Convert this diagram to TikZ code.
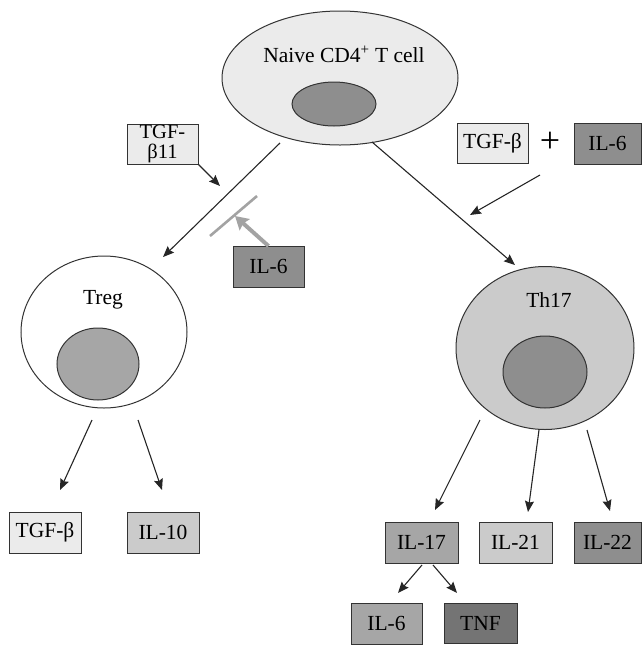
\documentclass[tikz,border=0pt]{standalone}
\usepackage{fontspec}
\setmainfont{Liberation Serif}
\usetikzlibrary{shapes.geometric,arrows.meta}
\definecolor{outl}{HTML}{333333}
\definecolor{vlight}{HTML}{EBEBEB}
\definecolor{lgray}{HTML}{CBCBCB}
\definecolor{mgray}{HTML}{A6A6A6}
\definecolor{dgray}{HTML}{8E8E8E}
\definecolor{ddgray}{HTML}{747474}
\definecolor{inhib}{HTML}{A3A3A3}
\tikzset{
  cell/.style={ellipse, draw=outl, line width=1pt, inner sep=0pt, outer sep=0pt},
  box/.style={rectangle, draw=outl, line width=1pt, inner sep=0pt, outer sep=0pt,
    minimum width=72pt, minimum height=41pt, font=\fontsize{21.5}{21}\selectfont},
  lbl/.style={inner sep=0pt, font=\fontsize{21.5}{21}\selectfont},
  arr/.style={draw=black!85, line width=1.1pt, -{Stealth[length=11pt,width=9pt,inset=1.5pt]}},
  grayarr/.style={draw=inhib, line width=4pt, -{Stealth[length=13pt,width=15pt,inset=2pt]}},
  bar/.style={draw=inhib, line width=2.6pt}
}
\begin{document}
\begin{tikzpicture}[x=1pt,y=-1pt]
\useasboundingbox (0,0) rectangle (642,646);
% cells
\node[cell, fill=vlight, minimum width=236pt, minimum height=134pt] (naive) at (340,78) {};
\node[cell, fill=dgray, minimum width=84pt, minimum height=44pt] (naivenuc) at (334,104) {};
\node[lbl, anchor=base] (naivetxt) at (344,62) {Naive CD4\textsuperscript{+} T cell};

\node[cell, fill=white, minimum width=166pt, minimum height=152pt] (treg) at (104,332) {};
\node[cell, fill=mgray, minimum width=82pt, minimum height=72pt] (tregnuc) at (98,364) {};
\node[lbl, anchor=base] (tregtxt) at (103,304) {Treg};

\node[cell, fill=lgray, minimum width=178pt, minimum height=163pt] (th17) at (545,348) {};
\node[cell, fill=dgray, minimum width=84pt, minimum height=72pt] (th17nuc) at (545,372) {};
\node[lbl, anchor=base] (th17txt) at (549,307) {Th17};

% boxes
\node[box, fill=vlight, minimum width=71pt, minimum height=40pt, align=center,
  font=\fontsize{20.5}{19.5}\selectfont] (tgfb11) at (162.5,144) {TGF-\\β11};
\node[box, fill=dgray, minimum width=71pt] (il6inh) at (268.5,266.5) {IL-6};
\node[box, fill=vlight, minimum width=71pt, minimum height=40pt] (tgfbR) at (492.5,143) {TGF-β};
\node[lbl, font=\fontsize{36}{36}\selectfont] (plus) at (550,142) {+};
\node[box, fill=dgray, minimum width=67pt] (il6R) at (607.5,143.5) {IL-6};

\node[box, fill=vlight] (tgfbL) at (45,532.5) {TGF-β};
\node[box, fill=lgray] (il10) at (163,532.5) {IL-10};

\node[box, fill=mgray, minimum width=73pt] (il17) at (421.5,542.5) {IL-17};
\node[box, fill=lgray, minimum width=73pt] (il21) at (515.5,542.5) {IL-21};
\node[box, fill=dgray, minimum width=67pt] (il22) at (607.5,542.5) {IL-22};
\node[box, fill=mgray, minimum width=71pt] (il6B) at (386.5,623.5) {IL-6};
\node[box, fill=ddgray, minimum width=73pt, minimum height=40pt] (tnf) at (480.5,623) {TNF};

% connector endpoints
\coordinate (nT0) at (280,143);
\coordinate (nT1) at (163,257);
\coordinate (tg1) at (220,186);
\coordinate (nH0) at (372,142);
\coordinate (nH1) at (515,265);
\coordinate (pl0) at (540,175);
\coordinate (pl1) at (470,215);
\coordinate (bar0) at (210,236);
\coordinate (bar1) at (257,196);
\coordinate (inh1) at (235,216);
\coordinate (tr0) at (92,420);
\coordinate (tr1) at (60,490);
\coordinate (tr2) at (138,420);
\coordinate (tr3) at (162,490);
\coordinate (h0) at (480,420);
\coordinate (h1) at (435,510);
\coordinate (h2) at (539,430);
\coordinate (h3) at (528,512);
\coordinate (h4) at (587,430);
\coordinate (h5) at (610,511);
\coordinate (s0) at (422,565);
\coordinate (s1) at (398,593);
\coordinate (s2) at (433,565);
\coordinate (s3) at (457,593);

% connectors
\draw[arr] (nT0) -- (nT1);
\draw[arr] (tgfb11.south east) -- (tg1);
\draw[arr] (nH0) -- (nH1);
\draw[arr] (pl0) -- (pl1);
\draw[bar] (bar0) -- (bar1);
\draw[grayarr] (il6inh.north) -- (inh1);
\draw[arr] (tr0) -- (tr1);
\draw[arr] (tr2) -- (tr3);
\draw[arr] (h0) -- (h1);
\draw[arr] (h2) -- (h3);
\draw[arr] (h4) -- (h5);
\draw[arr] (s0) -- (s1);
\draw[arr] (s2) -- (s3);
\end{tikzpicture}
\end{document}
